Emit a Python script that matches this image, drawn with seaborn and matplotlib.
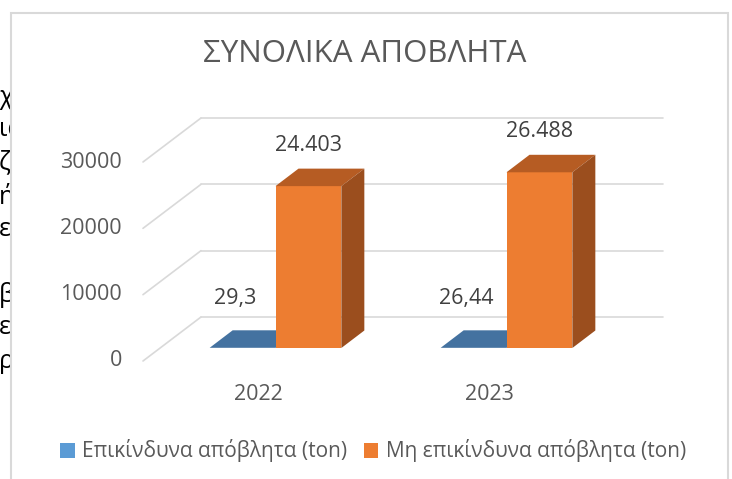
import matplotlib
matplotlib.use("Agg")
import matplotlib.pyplot as plt
import seaborn as sns
import pandas as pd
from matplotlib.patches import Polygon, Patch, Rectangle

# Data
years = ["2022", "2023"]
series_names = ["Επικίνδυνα απόβλητα (ton)", "Μη επικίνδυνα απόβλητα (ton)"]
hazardous = [29.3, 26.44]
non_hazardous = [24403, 26488]
y_ticks = [0, 10000, 20000, 30000]
title = "ΣΥΝΟΛΙΚΑ ΑΠΟΒΛΗΤΑ"
# clipped fragments of the document text behind the chart
doc_fragments = ["χ", "ια", "ζπ", "ή", "ε", "", "βλ", "ε", "ρβ"]

df = pd.DataFrame({
    "year": years * 2,
    "series": [series_names[0]] * 2 + [series_names[1]] * 2,
    "value": hazardous + non_hazardous,
})

front_colors = ["#5B9BD5", "#ED7D31"]
top_colors = ["#4472A0", "#B65C23"]
side_colors = ["#3A6590", "#9B4E1E"]
grid_color = "#D9D9D9"
text_color = "#595959"

sns.set_style("white")
plt.rcParams["font.family"] = ["Open Sans", "DejaVu Sans"]

W, H = 732, 479
fig = plt.figure(figsize=(W / 100, H / 100), dpi=100)

# axes = plane of the bars' front faces
ax = fig.add_axes([160 / W, (H - 348) / H, 462 / W, 199 / H])
sns.barplot(data=df, x="year", y="value", hue="series", palette=front_colors,
            width=0.57, gap=0, saturation=1, legend=False, ax=ax, zorder=3)
ax.set_xlim(-0.5, 1.5)
ax.set_ylim(0, 30000)
ax.axis("off")


def shift(x, y, dpx, dpy):
    # move a data point by a pixel offset, back into data coords
    px, py = ax.transData.transform((x, y))
    return tuple(ax.transData.inverted().transform((px + dpx, py + dpy)))


front_off = (-17, -13)   # front edge of floor / left wall
back_off = (41, 31)      # back wall
depth = (23, 17.5)       # bar depth

# back wall gridlines and left wall diagonals
for v in y_ticks:
    p0 = shift(-0.5, v, *back_off)
    p1 = shift(1.5, v, *back_off)
    ax.plot([p0[0], p1[0]], [p0[1], p1[1]], color=grid_color, lw=1.2,
            clip_on=False, zorder=1)
    f = shift(-0.5, v, *front_off)
    ax.plot([f[0], p0[0]], [f[1], p0[1]], color=grid_color, lw=1.2,
            clip_on=False, zorder=1)
    tx = shift(-0.5, v, front_off[0] - 21, front_off[1])
    ax.text(tx[0], tx[1], str(v), ha="right", va="center", fontsize=15.5,
            color=text_color, clip_on=False)

# category labels
for i, yr in enumerate(years):
    tx = shift(i, 0, front_off[0], front_off[1] - 33)
    ax.text(tx[0], tx[1], yr, ha="center", va="center", fontsize=15.5,
            color=text_color, clip_on=False)

# 3D faces for bars (patches are ordered by hue, then category)
n = len(years)
for k, bar in enumerate(ax.patches):
    s = k // n
    x0, x1 = bar.get_x(), bar.get_x() + bar.get_width()
    top = bar.get_height()
    z = 2 + s
    bar.set_zorder(z + 0.5)
    bar.set_edgecolor("none")
    top_face = [(x0, top), (x1, top), shift(x1, top, *depth), shift(x0, top, *depth)]
    side_face = [(x1, 0), (x1, top), shift(x1, top, *depth), shift(x1, 0, *depth)]
    ax.add_patch(Polygon(top_face, closed=True, facecolor=top_colors[s],
                         edgecolor="none", clip_on=False, zorder=z + 0.6))
    ax.add_patch(Polygon(side_face, closed=True, facecolor=side_colors[s],
                         edgecolor="none", clip_on=False, zorder=z + 0.6))


def fmt(v):
    if v >= 1000:
        return f"{v:,.0f}".replace(",", ".")
    return f"{v:g}".replace(".", ",")


# data labels
for k, bar in enumerate(ax.patches[:2 * n]):
    s = k // n
    cx = bar.get_x() + bar.get_width() / 2
    top = bar.get_height()
    off = (0, 41) if s == 1 else (-7, 49)
    p = shift(cx, top, *off)
    ax.text(p[0], p[1], fmt(top), ha="center", va="center", fontsize=15.5,
            color="#404040", clip_on=False, zorder=10)

# title
fig.text(365 / W, 1 - 54 / H, title, ha="center", va="center", fontsize=22.5,
         color=text_color)

# legend
handles = [Patch(facecolor=c, edgecolor="none") for c in front_colors]
fig.legend(handles, series_names, loc="center", bbox_to_anchor=(373 / W, 1 - 451 / H),
           ncol=2, frameon=False, fontsize=15, handlelength=0.7, handleheight=0.7,
           handletextpad=0.35, columnspacing=0.8, labelcolor=text_color)

# chart frame
fig.add_artist(Rectangle((11 / W, -0.1), (728 - 11) / W, 1.1 - 13 / H,
                         transform=fig.transFigure, fill=False,
                         edgecolor=grid_color, lw=1.5))

# document text peeking out at the left edge
ax_doc = fig.add_axes([0, 0, 10 / W, 1])
ax_doc.set_xlim(0, 10)
ax_doc.set_ylim(H, 0)
ax_doc.axis("off")
for j, frag in enumerate(doc_fragments):
    ax_doc.text(-1, 97 + j * 33, frag, ha="left", va="center", fontsize=18,
                color="black", clip_on=True)

fig.savefig("out.png", dpi=100)
plt.close(fig)
